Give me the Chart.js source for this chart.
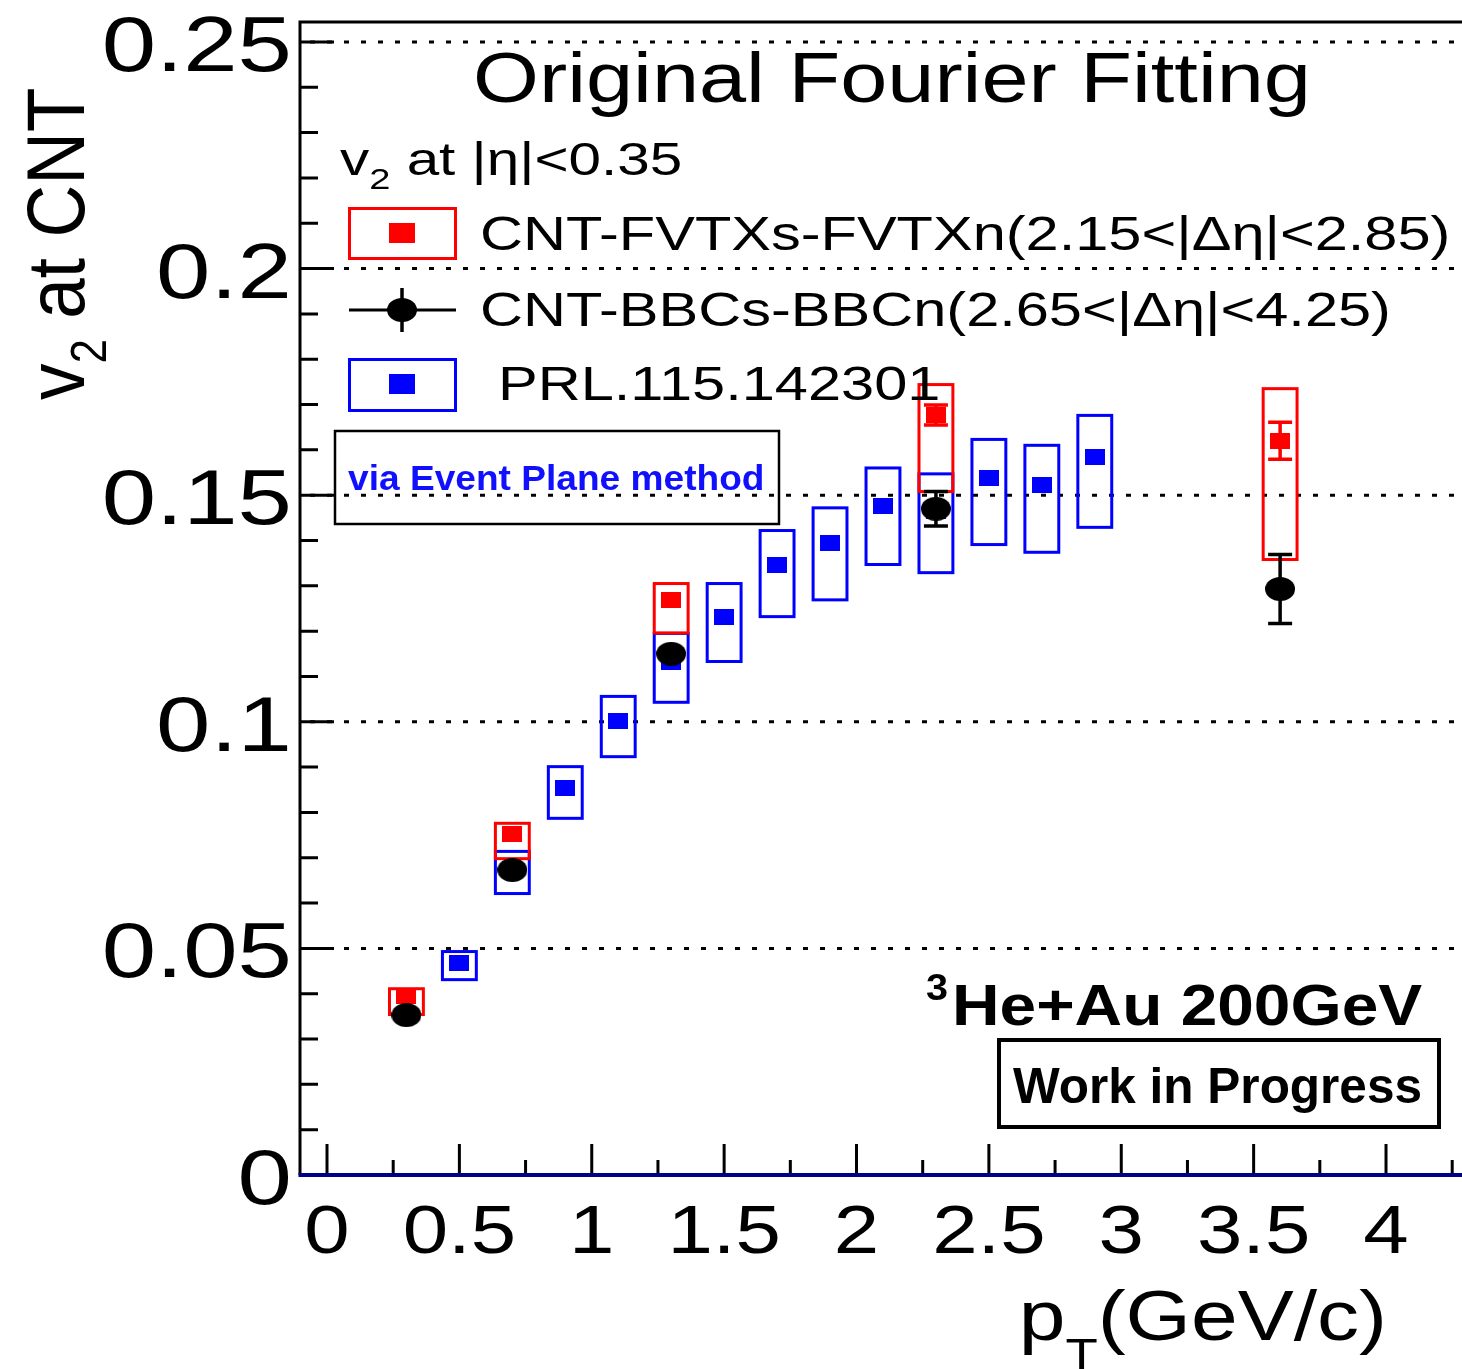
<!DOCTYPE html>
<html>
<head>
<meta charset="utf-8">
<title>v2 at CNT - Original Fourier Fitting</title>
<script src="https://cdn.jsdelivr.net/npm/chart.js@4.4.1/dist/chart.umd.min.js"></script>
<style>
  html, body { margin: 0; padding: 0; background: #fff; }
  canvas { display: block; }
</style>
</head>
<body>
<canvas id="v2Chart" width="1462" height="1369"></canvas>
<script>
const FONT = '"Liberation Sans", Arial, Helvetica, sans-serif';

// PRL.115.142301 (event plane), blue
const ptPrl = [0.5, 0.7, 0.9, 1.1, 1.3, 1.5, 1.7, 1.9, 2.1, 2.3, 2.5, 2.7, 2.9];
const v2Prl = [0.0468, 0.0675, 0.0854, 0.1002, 0.1132, 0.1232, 0.1347, 0.1395, 0.1476, 0.1465, 0.1538, 0.1523, 0.1584];
const sysHiPrl = [0.0493, 0.0714, 0.0901, 0.1056, 0.1195, 0.1305, 0.1422, 0.1472, 0.1560, 0.1547, 0.1623, 0.1610, 0.1676];
const sysLoPrl = [0.0431, 0.0621, 0.0787, 0.0923, 0.1043, 0.1133, 0.1232, 0.1269, 0.1347, 0.1329, 0.1391, 0.1374, 0.1429];

// CNT-FVTXs-FVTXn, red
const ptFvtx = [0.3, 0.7, 1.3, 2.3, 3.6];
const v2Fvtx = [0.0395, 0.0752, 0.1269, 0.1677, 0.1620];
const statFvtx = [0.0006, 0.0007, 0.0008, 0.0022, 0.0041];
const sysHiFvtx = [0.0411, 0.0776, 0.1305, 0.1744, 0.1735];
const sysLoFvtx = [0.0354, 0.0698, 0.1196, 0.1508, 0.1358];

// CNT-BBCs-BBCn, black
const ptBbc = [0.3, 0.7, 1.3, 2.3, 3.6];
const v2Bbc = [0.0353, 0.0673, 0.1150, 0.1470, 0.1293];
const statBbc = [0.001, 0.0015, 0.002, 0.0038, 0.0076];

const xMajor = [0, 0.5, 1, 1.5, 2, 2.5, 3, 3.5, 4];
const xLabels = ['0', '0.5', '1', '1.5', '2', '2.5', '3', '3.5', '4'];
const xMinor = [0.25, 0.75, 1.25, 1.75, 2.25, 2.75, 3.25, 3.75, 4.25];
const yMajor = [0, 0.05, 0.1, 0.15, 0.2, 0.25];
const yLabels = ['0', '0.05', '0.1', '0.15', '0.2', '0.25'];
const yMinor = [0.01, 0.02, 0.03, 0.04, 0.06, 0.07, 0.08, 0.09, 0.11, 0.12, 0.13, 0.14,
  0.16, 0.17, 0.18, 0.19, 0.21, 0.22, 0.23, 0.24];

const BOX_HALF = 0.064; // half width of the systematic boxes, in GeV/c

function makeMarker(w, h, color, ellipse) {
  const c = document.createElement('canvas');
  c.width = w;
  c.height = h;
  const g = c.getContext('2d');
  g.fillStyle = color;
  if (ellipse) {
    g.beginPath();
    g.ellipse(w / 2, h / 2, w / 2, h / 2, 0, 0, Math.PI * 2);
    g.fill();
  } else {
    g.fillRect(0, 0, w, h);
  }
  return c;
}

// text drawn with a horizontal stretch, like the reference
function drawText(ctx, parts, x, y, sx, align = 'left', color = '#000') {
  ctx.save();
  ctx.fillStyle = color;
  ctx.textAlign = 'left';
  ctx.textBaseline = 'alphabetic';
  const widths = parts.map((p) => {
    ctx.font = p.font;
    return ctx.measureText(p.text).width;
  });
  const total = widths.reduce((a, b) => a + b, 0) * sx;
  const x0 = align === 'center' ? x - total / 2 : align === 'right' ? x - total : x;
  ctx.translate(x0, y);
  ctx.scale(sx, 1);
  let cx = 0;
  parts.forEach((p, i) => {
    ctx.font = p.font;
    ctx.fillText(p.text, cx, p.dy || 0);
    cx += widths[i];
  });
  ctx.restore();
}

function drawBoxes(ctx, xs, ys, pts, lo, hi, color) {
  ctx.strokeStyle = color;
  ctx.lineWidth = 3;
  pts.forEach((pt, i) => {
    const l = xs.getPixelForValue(pt - BOX_HALF);
    const r = xs.getPixelForValue(pt + BOX_HALF);
    const t = ys.getPixelForValue(hi[i]);
    const b = ys.getPixelForValue(lo[i]);
    ctx.strokeRect(l, t, r - l, b - t);
  });
}

// error bars hidden by the marker are skipped, as ROOT does
function drawErrBars(ctx, xs, ys, pts, vals, errs, color, markerHalf) {
  ctx.strokeStyle = color;
  ctx.lineWidth = 3.5;
  pts.forEach((pt, i) => {
    const px = xs.getPixelForValue(pt);
    const t = ys.getPixelForValue(vals[i] + errs[i]);
    const b = ys.getPixelForValue(vals[i] - errs[i]);
    if ((b - t) / 2 < markerHalf) return;
    ctx.beginPath();
    ctx.moveTo(px, t);
    ctx.lineTo(px, b);
    ctx.moveTo(px - 12, t);
    ctx.lineTo(px + 12, t);
    ctx.moveTo(px - 12, b);
    ctx.lineTo(px + 12, b);
    ctx.stroke();
  });
}

const markerBbc = makeMarker(30, 24, '#000', true);
const markerFvtx = makeMarker(20, 16, '#ff0000', false);
const markerPrl = makeMarker(20, 16, '#0000ff', false);

const decor = {
  id: 'decor',
  beforeDatasetsDraw(chart) {
    const { ctx, chartArea: a, scales: { x, y } } = chart;
    ctx.save();
    // dotted lines at the major y values
    ctx.strokeStyle = '#000';
    ctx.lineWidth = 3;
    ctx.setLineDash([5, 12]);
    ctx.lineDashOffset = 7;
    yMajor.forEach((v) => {
      if (v === 0) return;
      const py = y.getPixelForValue(v);
      ctx.beginPath();
      ctx.moveTo(a.left, py);
      ctx.lineTo(a.right, py);
      ctx.stroke();
    });
    ctx.setLineDash([]);

    drawBoxes(ctx, x, y, ptPrl, sysLoPrl, sysHiPrl, '#0000ff');
    drawBoxes(ctx, x, y, ptFvtx, sysLoFvtx, sysHiFvtx, '#ff0000');
    drawErrBars(ctx, x, y, ptFvtx, v2Fvtx, statFvtx, '#ff0000', 8);
    drawErrBars(ctx, x, y, ptBbc, v2Bbc, statBbc, '#000', 12);
    ctx.restore();
  },
  afterDatasetsDraw(chart) {
    const { ctx, chartArea: a, scales: { x, y } } = chart;
    ctx.save();

    // frame
    ctx.strokeStyle = '#000';
    ctx.lineWidth = 3;
    ctx.beginPath();
    ctx.moveTo(a.left, a.bottom);
    ctx.lineTo(a.left, a.top);
    ctx.lineTo(a.right, a.top);
    ctx.stroke();

    // ticks, inside the frame
    ctx.beginPath();
    yMajor.forEach((v) => {
      const py = y.getPixelForValue(v);
      ctx.moveTo(a.left, py);
      ctx.lineTo(a.left + 34, py);
    });
    yMinor.forEach((v) => {
      const py = y.getPixelForValue(v);
      ctx.moveTo(a.left, py);
      ctx.lineTo(a.left + 18, py);
    });
    xMajor.forEach((v) => {
      const px = x.getPixelForValue(v);
      ctx.moveTo(px, a.bottom);
      ctx.lineTo(px, a.bottom - 31);
    });
    xMinor.forEach((v) => {
      const px = x.getPixelForValue(v);
      ctx.moveTo(px, a.bottom);
      ctx.lineTo(px, a.bottom - 15);
    });
    ctx.stroke();

    // x axis line
    ctx.strokeStyle = '#000088';
    ctx.lineWidth = 4;
    ctx.beginPath();
    ctx.moveTo(a.left - 1.5, a.bottom);
    ctx.lineTo(a.right, a.bottom);
    ctx.stroke();

    // tick labels
    yMajor.forEach((v, i) => {
      drawText(ctx, [{ text: yLabels[i], font: `77px ${FONT}` }], 292, y.getPixelForValue(v) + 29, 1.27, 'right');
    });
    xMajor.forEach((v, i) => {
      drawText(ctx, [{ text: xLabels[i], font: `68px ${FONT}` }], x.getPixelForValue(v), 1253, 1.2, 'center');
    });

    // axis titles
    drawText(ctx, [
      { text: 'p', font: `70px ${FONT}` },
      { text: 'T', font: `44px ${FONT}`, dy: 30 },
      { text: '(GeV/c)', font: `70px ${FONT}` },
    ], 1387, 1340, 1.2, 'right');

    ctx.save();
    ctx.translate(84, 400);
    ctx.rotate(-Math.PI / 2);
    ctx.scale(1, 1.12);
    drawText(ctx, [
      { text: 'v', font: `73px ${FONT}` },
      { text: '2', font: `44px ${FONT}`, dy: 20 },
      { text: ' at CNT', font: `73px ${FONT}` },
    ], 0, 0, 1, 'left');
    ctx.restore();

    // title and header
    drawText(ctx, [{ text: 'Original Fourier Fitting', font: `70px ${FONT}` }], 892, 102, 1.21, 'center');
    drawText(ctx, [
      { text: 'v', font: `46px ${FONT}` },
      { text: '2', font: `30px ${FONT}`, dy: 14 },
      { text: ' at |η|<0.35', font: `46px ${FONT}` },
    ], 340, 175, 1.27);

    // legend
    ctx.lineWidth = 3;
    ctx.strokeStyle = '#ff0000';
    ctx.strokeRect(349.5, 208.5, 106, 50);
    ctx.drawImage(makeMarker(26, 20, '#ff0000', false), 389, 223);
    ctx.strokeStyle = '#0000ff';
    ctx.strokeRect(349.5, 359.5, 106, 51);
    ctx.drawImage(makeMarker(26, 20, '#0000ff', false), 389, 374);
    ctx.strokeStyle = '#000';
    ctx.beginPath();
    ctx.moveTo(349, 310);
    ctx.lineTo(456, 310);
    ctx.stroke();
    ctx.lineWidth = 3.5;
    ctx.beginPath();
    ctx.moveTo(402, 288);
    ctx.lineTo(402, 332);
    ctx.stroke();
    ctx.drawImage(markerBbc, 387, 298);

    drawText(ctx, [{ text: 'CNT-FVTXs-FVTXn(2.15<|Δη|<2.85)', font: `48px ${FONT}` }], 480, 250, 1.24);
    drawText(ctx, [{ text: 'CNT-BBCs-BBCn(2.65<|Δη|<4.25)', font: `48px ${FONT}` }], 480, 326, 1.24);
    drawText(ctx, [{ text: 'PRL.115.142301', font: `48px ${FONT}` }], 498, 400, 1.24);

    // method label
    ctx.lineWidth = 2.5;
    ctx.strokeStyle = '#000';
    ctx.strokeRect(335, 431, 444, 93);
    drawText(ctx, [{ text: 'via Event Plane method', font: `bold 35px ${FONT}` }], 348, 490, 1.06, 'left', '#1010ff');

    // system label
    drawText(ctx, [{ text: '3', font: `bold 36px ${FONT}` }], 926, 1000, 1.1);
    drawText(ctx, [{ text: 'He+Au 200GeV', font: `bold 58px ${FONT}` }], 952, 1025, 1.135);
    ctx.lineWidth = 4;
    ctx.strokeRect(999, 1040, 440, 87);
    drawText(ctx, [{ text: 'Work in Progress', font: `bold 50px ${FONT}` }], 1013, 1103, 0.99);

    ctx.restore();
  },
};

new Chart(document.getElementById('v2Chart'), {
  type: 'scatter',
  data: {
    datasets: [
      {
        label: 'CNT-BBCs-BBCn',
        data: ptBbc.map((pt, i) => ({ x: pt, y: v2Bbc[i] })),
        pointStyle: markerBbc,
        pointRadius: 12,
      },
      {
        label: 'CNT-FVTXs-FVTXn',
        data: ptFvtx.map((pt, i) => ({ x: pt, y: v2Fvtx[i] })),
        pointStyle: markerFvtx,
        pointRadius: 10,
      },
      {
        label: 'PRL.115.142301',
        data: ptPrl.map((pt, i) => ({ x: pt, y: v2Prl[i] })),
        pointStyle: markerPrl,
        pointRadius: 10,
      },
    ],
  },
  options: {
    responsive: false,
    animation: false,
    devicePixelRatio: 1,
    layout: { autoPadding: false, padding: { left: 300, right: 0, top: 22, bottom: 194 } },
    scales: {
      x: { type: 'linear', min: -0.102, max: 4.287, display: false },
      y: { type: 'linear', min: 0, max: 0.2544, display: false },
    },
    plugins: {
      legend: { display: false },
      tooltip: { enabled: false },
    },
  },
  plugins: [decor],
});
</script>
</body>
</html>
